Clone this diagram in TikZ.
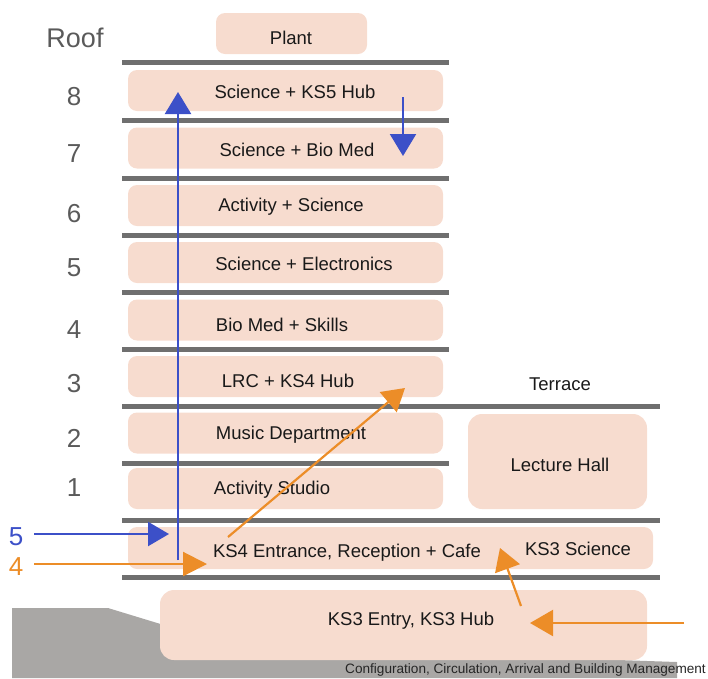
\documentclass[tikz,border=0pt]{standalone}
\usepackage{fontspec}
\setmainfont{Liberation Sans}
\usetikzlibrary{arrows.meta}
\definecolor{boxpink}{HTML}{F7DCCF}
\definecolor{floorgray}{HTML}{6F6F6F}
\definecolor{groundgray}{HTML}{A9A7A5}
\definecolor{arrblue}{HTML}{3C50C8}
\definecolor{arrorange}{HTML}{EC8D28}
\definecolor{labgray}{HTML}{5A5A5A}
\tikzset{
  room/.style={fill=boxpink, draw=none, rounded corners=9pt, inner sep=0pt},
  roomtext/.style={font=\fontsize{18.5}{22}\selectfont, text=black!90, inner sep=0pt},
  floorlabel/.style={font=\fontsize{26}{30}\selectfont, text=labgray, inner sep=0pt},
  slab/.style={draw=floorgray, line width=5pt},
  bluearrow/.style={draw=arrblue, line width=2.2pt, -{Triangle[length=22pt,width=26pt]}},
  orangearrow/.style={draw=arrorange, line width=2.2pt, -{Triangle[length=22pt,width=26pt]}}
}
\begin{document}
\begin{tikzpicture}[x=1pt,y=-1pt]
\useasboundingbox (0,0) rectangle (708,678);
% ground
\fill[groundgray] (12,608) -- (108,608) -- (236,647) -- (677,662) -- (677,678) -- (12,678) -- cycle;
% rooms
\node[room, minimum width=151pt, minimum height=41pt] (plantbox) at (291.5,33.5) {};
\node[room, minimum width=315pt, minimum height=41pt] (f8) at (285.5,90.5) {};
\node[room, minimum width=315pt, minimum height=41pt] (f7) at (285.5,148) {};
\node[room, minimum width=315pt, minimum height=41pt] (f6) at (285.5,205.5) {};
\node[room, minimum width=315pt, minimum height=41pt] (f5) at (285.5,262.5) {};
\node[room, minimum width=315pt, minimum height=41pt] (f4) at (285.5,320) {};
\node[room, minimum width=315pt, minimum height=41pt] (f3) at (285.5,376.5) {};
\node[room, minimum width=315pt, minimum height=41pt] (f2) at (285.5,433) {};
\node[room, minimum width=315pt, minimum height=41pt] (f1) at (285.5,488.5) {};
\node[room, minimum width=179pt, minimum height=95pt, rounded corners=14pt] (lecbox) at (557.5,461.5) {};
\node[room, minimum width=525pt, minimum height=42pt] (f0) at (390.5,548) {};
\node[room, minimum width=487pt, minimum height=70pt, rounded corners=14pt] (ks3box) at (403.5,625) {};
% slabs
\foreach \yy in {62,120,178,235,292,349,463} \draw[slab] (122,\yy) -- (449,\yy);
\foreach \yy in {406,520,577} \draw[slab] (122,\yy) -- (660,\yy);
% room texts
\node[roomtext] (tplant) at (291,38) {Plant};
\node[roomtext] (t8) at (295,92) {Science + KS5 Hub};
\node[roomtext] (t7) at (297,150) {Science + Bio Med};
\node[roomtext] (t6) at (291,207) {Activity + Science};
\node[roomtext] (t5) at (304,264) {Science + Electronics};
\node[roomtext] (t4) at (282,325) {Bio Med + Skills};
\node[roomtext] (t3) at (288,381) {LRC + KS4 Hub};
\node[roomtext] (t2) at (291,435) {Music Department};
\node[roomtext] (t1) at (272,490) {Activity Studio};
\node[roomtext] (tterr) at (560,384) {Terrace};
\node[roomtext] (tlec) at (560,465) {Lecture Hall};
\node[roomtext] (t0) at (347,553) {KS4 Entrance, Reception + Cafe};
\node[roomtext] (tks3s) at (578,549) {KS3 Science};
\node[roomtext] (tks3e) at (411,621) {KS3 Entry, KS3 Hub};
% floor labels
\node[floorlabel, font=\fontsize{27}{31}\selectfont] (lroof) at (75,38) {Roof};
\node[floorlabel] (l8) at (74,97) {8};
\node[floorlabel] (l7) at (74,154) {7};
\node[floorlabel] (l6) at (74,214) {6};
\node[floorlabel] (l5) at (74,268) {5};
\node[floorlabel] (l4) at (74,330) {4};
\node[floorlabel] (l3) at (74,384) {3};
\node[floorlabel] (l2) at (74,438) {2};
\node[floorlabel] (l1) at (74,488) {1};
\node[floorlabel, text=arrblue] (in5) at (16,537) {5};
\node[floorlabel, text=arrorange] (in4) at (16,567) {4};
% caption
\node[font=\fontsize{13.6}{16}\selectfont, text=black!85, anchor=east, inner sep=0pt] (caption) at (706,670) {Configuration, Circulation, Arrival and Building Management};
% arrow end points
\coordinate (liftbot) at (178,560);
\coordinate (lifttop) at (178,92);
\coordinate (downs) at (403,97);
\coordinate (downe) at (403,156);
\coordinate (b5s) at (34,534);
\coordinate (b5e) at (169,534);
\coordinate (o4s) at (34,564);
\coordinate (o4e) at (207,564);
\coordinate (diags) at (228,537);
\coordinate (diage) at (405,388);
\coordinate (ups) at (521,606);
\coordinate (upe) at (500,548);
\coordinate (lefts) at (684,623);
\coordinate (lefte) at (530,623);
% arrows
\draw[bluearrow] (liftbot) -- (lifttop);
\draw[bluearrow] (downs) -- (downe);
\draw[bluearrow, -{Triangle[length=21pt,width=24pt]}] (b5s) -- (b5e);
\draw[orangearrow, -{Triangle[length=24pt,width=24pt]}] (o4s) -- (o4e);
\draw[orangearrow] (diags) -- (diage);
\draw[orangearrow] (ups) -- (upe);
\draw[orangearrow, -{Triangle[length=23pt,width=26pt]}] (lefts) -- (lefte);
\end{tikzpicture}
\end{document}
